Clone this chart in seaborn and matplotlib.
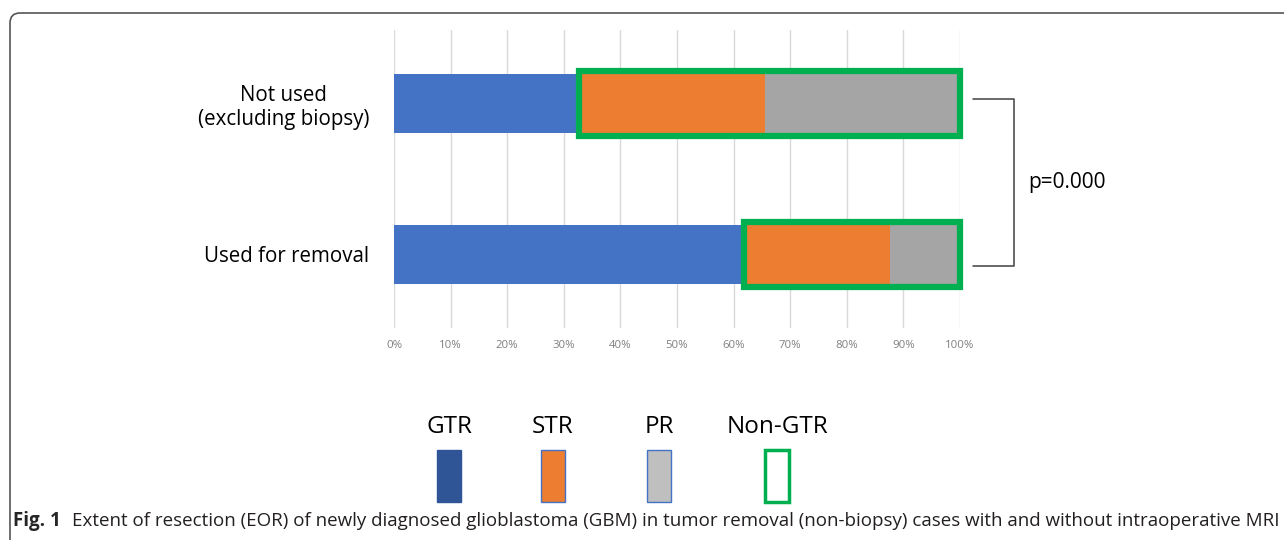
import numpy as np
import pandas as pd
import matplotlib
matplotlib.use("Agg")
import matplotlib.pyplot as plt
import seaborn as sns
from matplotlib.patches import Rectangle, FancyBboxPatch
from matplotlib.transforms import IdentityTransform

# data (percent of cases)
groups = ["Not used\n(excluding biopsy)", "Used for removal"]
gtr = [32.7, 61.8]
str_ = [32.8, 25.8]
pr = [34.5, 12.4]
p_label = "p=0.000"
ticks = np.arange(0, 101, 10)
legend_labels = ["GTR", "STR", "PR", "Non-GTR"]
caption_bold = "Fig. 1"
caption = ("Extent of resection (EOR) of newly diagnosed glioblastoma (GBM) in tumor removal "
           "(non-biopsy) cases with and without intraoperative MRI")

sns.set_theme(style="white")
plt.rcParams["font.family"] = ["Open Sans", "DejaVu Sans"]

df = pd.DataFrame({"group": groups, "GTR": gtr, "STR": str_, "PR": pr})
df["to_str"] = df["GTR"] + df["STR"]
df["total"] = df["to_str"] + df["PR"]

fig = plt.figure(figsize=(12.84, 5.4), dpi=100)
ax = fig.add_axes([394 / 1284, 1 - 328 / 540, 566 / 1284, 298 / 540])

bw = 0.39
# stacked bars drawn back to front
sns.barplot(data=df, x="total", y="group", orient="h", color="#a5a5a5", width=bw,
            linewidth=0, saturation=1, ax=ax)
sns.barplot(data=df, x="to_str", y="group", orient="h", color="#ed7d31", width=bw,
            linewidth=0, saturation=1, ax=ax)
sns.barplot(data=df, x="GTR", y="group", orient="h", color="#4472c4", width=bw,
            linewidth=0, saturation=1, ax=ax)

# green outline around the non-GTR part
for i, row in df.iterrows():
    ax.add_patch(Rectangle((row["GTR"], i - bw / 2 - 0.02), row["total"] - row["GTR"], bw + 0.04,
                           fill=False, edgecolor="#00b050", linewidth=4.5, zorder=5,
                           clip_on=False, joinstyle="miter"))

ax.set_xlim(0, 100)
ax.set_ylim(1.49, -0.49)
ax.set_xticks(ticks)
ax.set_xticklabels([f"{t}%" for t in ticks], fontsize=8.2, color="#7f7f7f")
ax.tick_params(axis="x", length=0, pad=9)
ax.tick_params(axis="y", length=0, pad=18)
for lab in ax.get_yticklabels():
    lab.set_fontsize(14.8)
    lab.set_multialignment("center")
    lab.set_color("black")
ax.set_xlabel("")
ax.set_ylabel("")
ax.xaxis.grid(True, color="#d9d9d9", linewidth=1)
ax.set_axisbelow(True)
sns.despine(ax=ax, left=True, bottom=True)

# significance bracket
bx0, bx1 = 102.3, 109.5
y0, y1 = -0.03, 1.08
ax.plot([bx0, bx1, bx1, bx0], [y0, y0, y1, y1], color="#404040", linewidth=1.1, clip_on=False)
ax.text(bx1 + 2.6, (y0 + y1) / 2, p_label, fontsize=15, va="center", ha="left", color="black")

# legend
leg_x = [449, 553, 659, 777]
leg_face = ["#2f5597", "#ed7d31", "#bfbfbf", "none"]
leg_edge = ["#2f5597", "#4472c4", "#4472c4", "#00b050"]
leg_lw = [1.0, 1.0, 1.0, 2.5]
for xc, lab, fc, ec, lw in zip(leg_x, legend_labels, leg_face, leg_edge, leg_lw):
    fig.text(xc / 1284, 1 - 427 / 540, lab, fontsize=17.5, ha="center", va="center", color="black")
    fig.patches.append(Rectangle(((xc - 12) / 1284, 1 - 502 / 540), 24 / 1284, 52 / 540,
                                 facecolor=fc, edgecolor=ec, linewidth=lw,
                                 transform=fig.transFigure, figure=fig))

# frame
fig.patches.append(FancyBboxPatch((10, -60), 1400, 587, boxstyle="round,pad=0,rounding_size=10",
                                  fill=False, edgecolor="#555555", linewidth=1.2,
                                  transform=IdentityTransform(), figure=fig))

# caption
t1 = fig.text(13 / 1284, 1 - 521 / 540, caption_bold, fontsize=13.5, fontweight="bold",
              ha="left", va="center")
fig.canvas.draw()
bb = t1.get_window_extent(fig.canvas.get_renderer())
fig.text((bb.x1 + 11) / 1284, 1 - 521 / 540, caption, fontsize=13.5, ha="left", va="center",
         color="#231f20")

fig.savefig("out.png", dpi=100)
